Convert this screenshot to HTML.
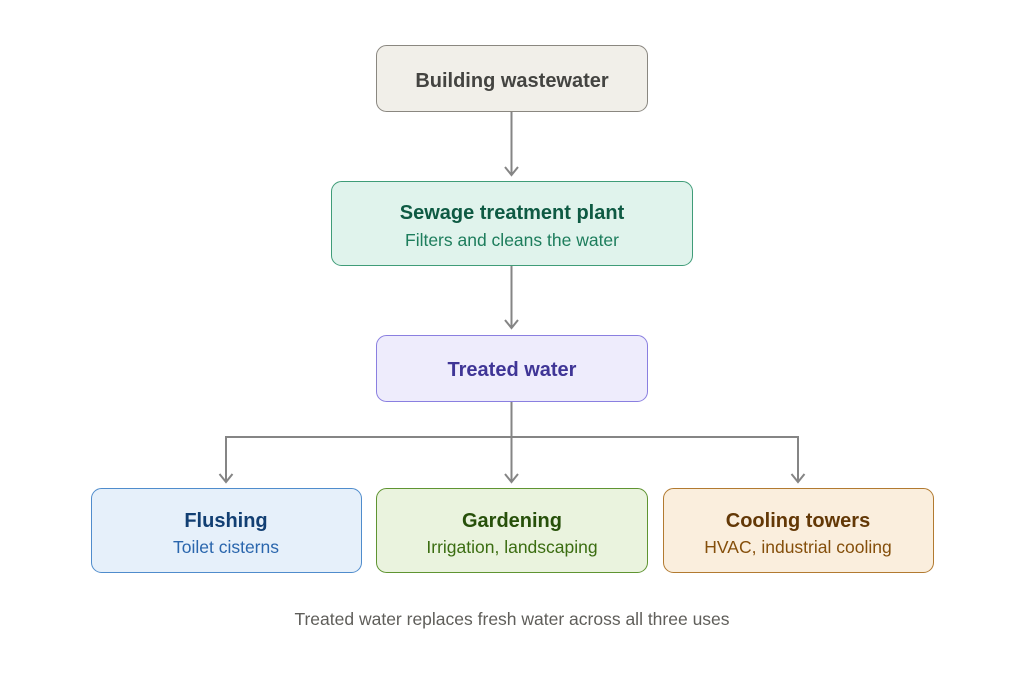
<!DOCTYPE html>
<html><head><meta charset="utf-8"><style>
html,body{margin:0;padding:0;background:#fff}
svg{display:block}
text{font-family:"Liberation Sans",sans-serif;text-anchor:middle}
.t{font-size:20px;font-weight:bold}
.s{font-size:17.5px}
</style></head><body>
<svg width="1024" height="693" viewBox="0 0 1024 693">
<g stroke="#858585" stroke-width="2" fill="none">
<line x1="511.5" y1="111" x2="511.5" y2="175"/>
<polyline points="505,167 511.5,175 518,167"/>
<line x1="511.5" y1="265" x2="511.5" y2="328"/>
<polyline points="505,320 511.5,328 518,320"/>
<line x1="511.5" y1="401" x2="511.5" y2="482"/>
<polyline points="226,482 226,437 798,437 798,482"/>
<polyline points="219.5,474 226,482 232.5,474"/>
<polyline points="505,474 511.5,482 518,474"/>
<polyline points="791.5,474 798,482 804.5,474"/>
</g>
<rect x="376.5" y="45.5" width="271" height="66" rx="10" fill="#f1efe9" stroke="#8a8780"/>
<text x="512" y="87" class="t" fill="#444441">Building wastewater</text>
<rect x="331.5" y="181.5" width="361" height="84" rx="10" fill="#e0f3ec" stroke="#3f9c78"/>
<text x="512" y="219" class="t" fill="#0e5a43">Sewage treatment plant</text>
<text x="512" y="246" class="s" fill="#1d7d5c">Filters and cleans the water</text>
<rect x="376.5" y="335.5" width="271" height="66" rx="10" fill="#eeecfc" stroke="#8a7fe0"/>
<text x="512" y="376" class="t" fill="#3f3596">Treated water</text>
<rect x="91.5" y="488.5" width="270" height="84" rx="10" fill="#e6f0fa" stroke="#4f8ccc"/>
<text x="226" y="527" class="t" fill="#123f73">Flushing</text>
<text x="226" y="553" class="s" fill="#2a66ad">Toilet cisterns</text>
<rect x="376.5" y="488.5" width="271" height="84" rx="10" fill="#eaf3de" stroke="#5f9431"/>
<text x="512" y="527" class="t" fill="#27500a">Gardening</text>
<text x="512" y="553" class="s" fill="#3b6d11">Irrigation, landscaping</text>
<rect x="663.5" y="488.5" width="270" height="84" rx="10" fill="#faeedd" stroke="#b27a30"/>
<text x="798" y="527" class="t" fill="#633806">Cooling towers</text>
<text x="798" y="553" class="s" fill="#854f0b">HVAC, industrial cooling</text>
<text x="512" y="625" class="s" fill="#5f5e5a">Treated water replaces fresh water across all three uses</text>
</svg>
</body></html>
